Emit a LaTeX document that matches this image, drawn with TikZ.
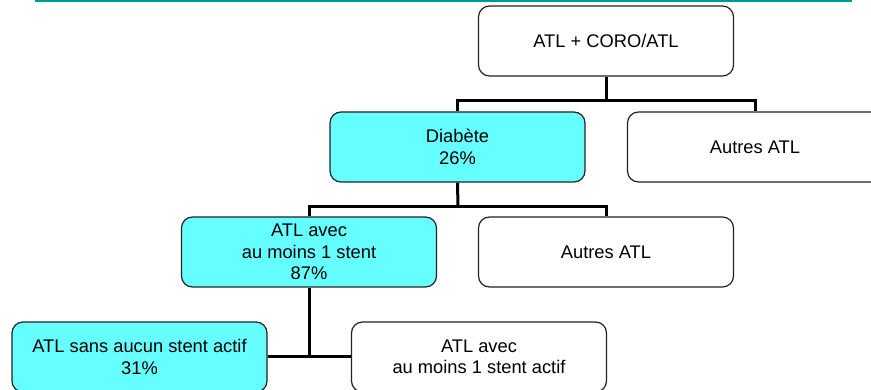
\documentclass[tikz,border=0pt]{standalone}
\usepackage{fontspec}
\setmainfont{Liberation Sans}
\definecolor{cyanfill}{HTML}{66FFFF}
\definecolor{tealline}{HTML}{009999}
\definecolor{boxline}{HTML}{222222}
\begin{document}
\begin{tikzpicture}[x=1pt,y=-1pt,
  box/.style={draw=boxline, line width=1.2pt, rounded corners=11pt, fill=white,
    minimum width=255pt, minimum height=70pt, align=center, inner sep=2pt,
    font=\fontsize{18.3}{21.5}\selectfont},
  hot/.style={box, fill=cyanfill},
  link/.style={draw=black, line width=3pt}]
\useasboundingbox (0,0) rectangle (871,390);
\fill[tealline] (35,0) rectangle (852,2.2);

\node[box] (top) at (606,41) {ATL + CORO/ATL};
\node[hot] (diab) at (457.5,147) {Diabète\\26\%};
\node[box] (aut1) at (755,147) {Autres ATL};
\node[hot] (avec) at (309,252) {ATL avec\\au moins 1 stent\\87\%};
\node[box] (aut2) at (606,252) {Autres ATL};
\node[hot] (sans) at (139.5,357) {ATL sans aucun stent actif\\31\%};
\node[box] (actif) at (479,357) {ATL avec\\au moins 1 stent actif};

\coordinate (j1) at (606,101);
\coordinate (j2) at (458,207);
\coordinate (j3) at (309,357);

\draw[link] (top.south) -- (j1);
\draw[link] (diab.north) |- (j1) -| (aut1.north);
\draw[link] (diab.south) -- (j2);
\draw[link] (avec.north) |- (j2) -| (aut2.north);
\draw[link] (avec.south) -- (j3);
\draw[link] (sans.east) -- (j3) -- (actif.west);
\end{tikzpicture}
\end{document}
